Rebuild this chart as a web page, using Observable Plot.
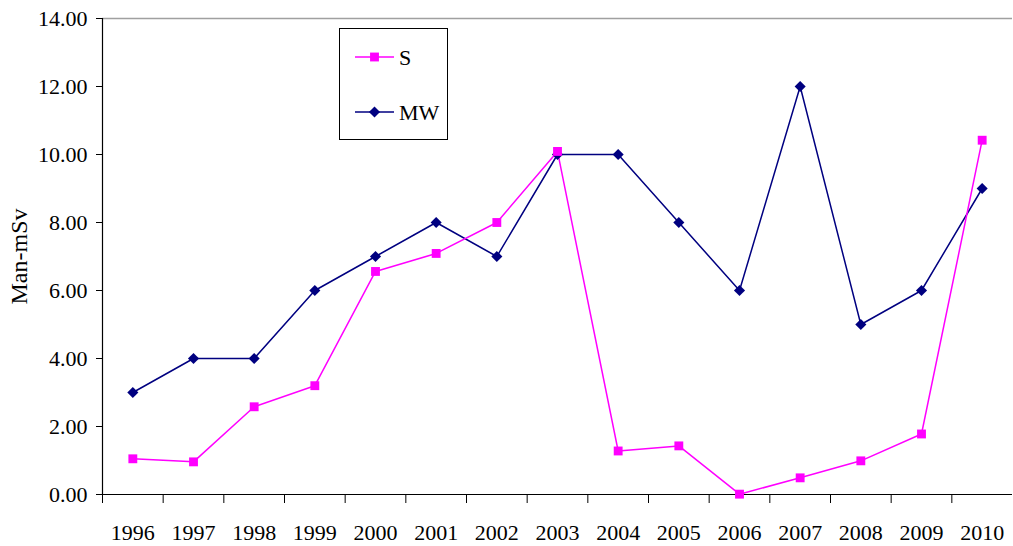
<!DOCTYPE html>
<html>
<head>
<meta charset="utf-8">
<script src="https://cdn.jsdelivr.net/npm/d3@7"></script>
<script src="https://cdn.jsdelivr.net/npm/@observablehq/plot@0.6"></script>
<style>
  html, body { margin: 0; padding: 0; background: white; }
  #wrap { position: relative; width: 1013px; height: 546px; font-family: "Liberation Serif", "Times New Roman", Times, serif; }
  #wrap svg text { font-family: "Liberation Serif", "Times New Roman", Times, serif; }
  #legend { position: absolute; left: 339px; top: 28px; width: 107px; height: 110px; border: 1px solid black; background: white; }
</style>
</head>
<body>
<div id="wrap"></div>
<script>
const years = [1996, 1997, 1998, 1999, 2000, 2001, 2002, 2003, 2004, 2005, 2006, 2007, 2008, 2009, 2010];
const sValues = [1.05, 0.96, 2.58, 3.2, 6.56, 7.09, 8.0, 10.09, 1.28, 1.43, 0.01, 0.49, 0.99, 1.78, 10.42];
const mwValues = [3, 4, 4, 6, 7, 8, 7, 10, 10, 8, 6, 12, 5, 6, 9];
const yTicks = [0, 2, 4, 6, 8, 10, 12, 14];
const seriesNames = ["S", "MW"];
const seriesColors = ["#ff00ff", "#000080"];
const seriesSymbols = ["square", "diamond2"];
const yLabel = "Man-mSv";

const sData = years.map((yr, i) => ({year: yr, value: sValues[i]}));
const mwData = years.map((yr, i) => ({year: yr, value: mwValues[i]}));
const boundaries = years.map(yr => yr - 0.5);
const serif = "'Liberation Serif', 'Times New Roman', Times, serif";

const chart = Plot.plot({
  width: 1013,
  height: 546,
  marginLeft: 102,
  marginRight: 1,
  marginTop: 18,
  marginBottom: 52,
  x: {domain: [years[0] - 0.5, years[years.length - 1] + 0.5], axis: null},
  y: {domain: [0, 14], axis: null},
  style: {fontFamily: serif, fontSize: "22px", color: "black", background: "white"},
  marks: [
    Plot.ruleY([14], {stroke: "#a0a0a0", strokeWidth: 1.5}),
    Plot.axisY({ticks: yTicks, tickSize: 6, tickPadding: 9, tickFormat: d3.format(".2f"), label: null, strokeOpacity: 1}),
    Plot.axisX({ticks: boundaries, tickSize: 9, tickFormat: () => "", label: null, strokeOpacity: 1}),
    Plot.axisX({ticks: years, tickSize: 0, tickPadding: 30, tickFormat: d => String(d), label: null}),
    Plot.ruleY([0], {stroke: "black", strokeWidth: 1.2}),
    Plot.ruleX([years[0] - 0.5], {stroke: "black", strokeWidth: 1.2}),
    Plot.line(mwData, {x: "year", y: "value", stroke: seriesColors[1], strokeWidth: 1.5}),
    Plot.line(sData, {x: "year", y: "value", stroke: seriesColors[0], strokeWidth: 1.5}),
    Plot.dot(mwData, {x: "year", y: "value", symbol: seriesSymbols[1], r: 5, fill: seriesColors[1], stroke: "none"}),
    Plot.dot(sData, {x: "year", y: "value", symbol: seriesSymbols[0], r: 5, fill: seriesColors[0], stroke: "none"}),
    Plot.text([yLabel], {text: d => d, frameAnchor: "left", textAnchor: "middle", lineAnchor: "middle", rotate: -90, dx: -83, fontSize: 24, fill: "black"})
  ]
});

const wrap = document.getElementById("wrap");
wrap.appendChild(chart);

// Legend
const legend = document.createElement("div");
legend.id = "legend";
const ns = "http://www.w3.org/2000/svg";
const lsvg = document.createElementNS(ns, "svg");
lsvg.setAttribute("width", 107);
lsvg.setAttribute("height", 110);
const rowsY = [28, 83];
seriesNames.forEach((name, i) => {
  const g = document.createElementNS(ns, "g");
  const ln = document.createElementNS(ns, "line");
  ln.setAttribute("x1", 15); ln.setAttribute("x2", 54);
  ln.setAttribute("y1", rowsY[i]); ln.setAttribute("y2", rowsY[i]);
  ln.setAttribute("stroke", seriesColors[i]); ln.setAttribute("stroke-width", 1.5);
  g.appendChild(ln);
  const sym = document.createElementNS(ns, "path");
  const size = Math.PI * 25;
  const symType = seriesSymbols[i] === "square" ? d3.symbolSquare : d3.symbolDiamond2;
  sym.setAttribute("d", d3.symbol(symType, size)());
  sym.setAttribute("transform", `translate(34.5,${rowsY[i]})`);
  sym.setAttribute("fill", seriesColors[i]);
  g.appendChild(sym);
  const tx = document.createElementNS(ns, "text");
  tx.setAttribute("x", 59); tx.setAttribute("y", rowsY[i]);
  tx.setAttribute("dy", "0.35em");
  tx.setAttribute("font-size", 22);
  tx.textContent = name;
  g.appendChild(tx);
  lsvg.appendChild(g);
});
legend.appendChild(lsvg);
wrap.appendChild(legend);
</script>
</body>
</html>
